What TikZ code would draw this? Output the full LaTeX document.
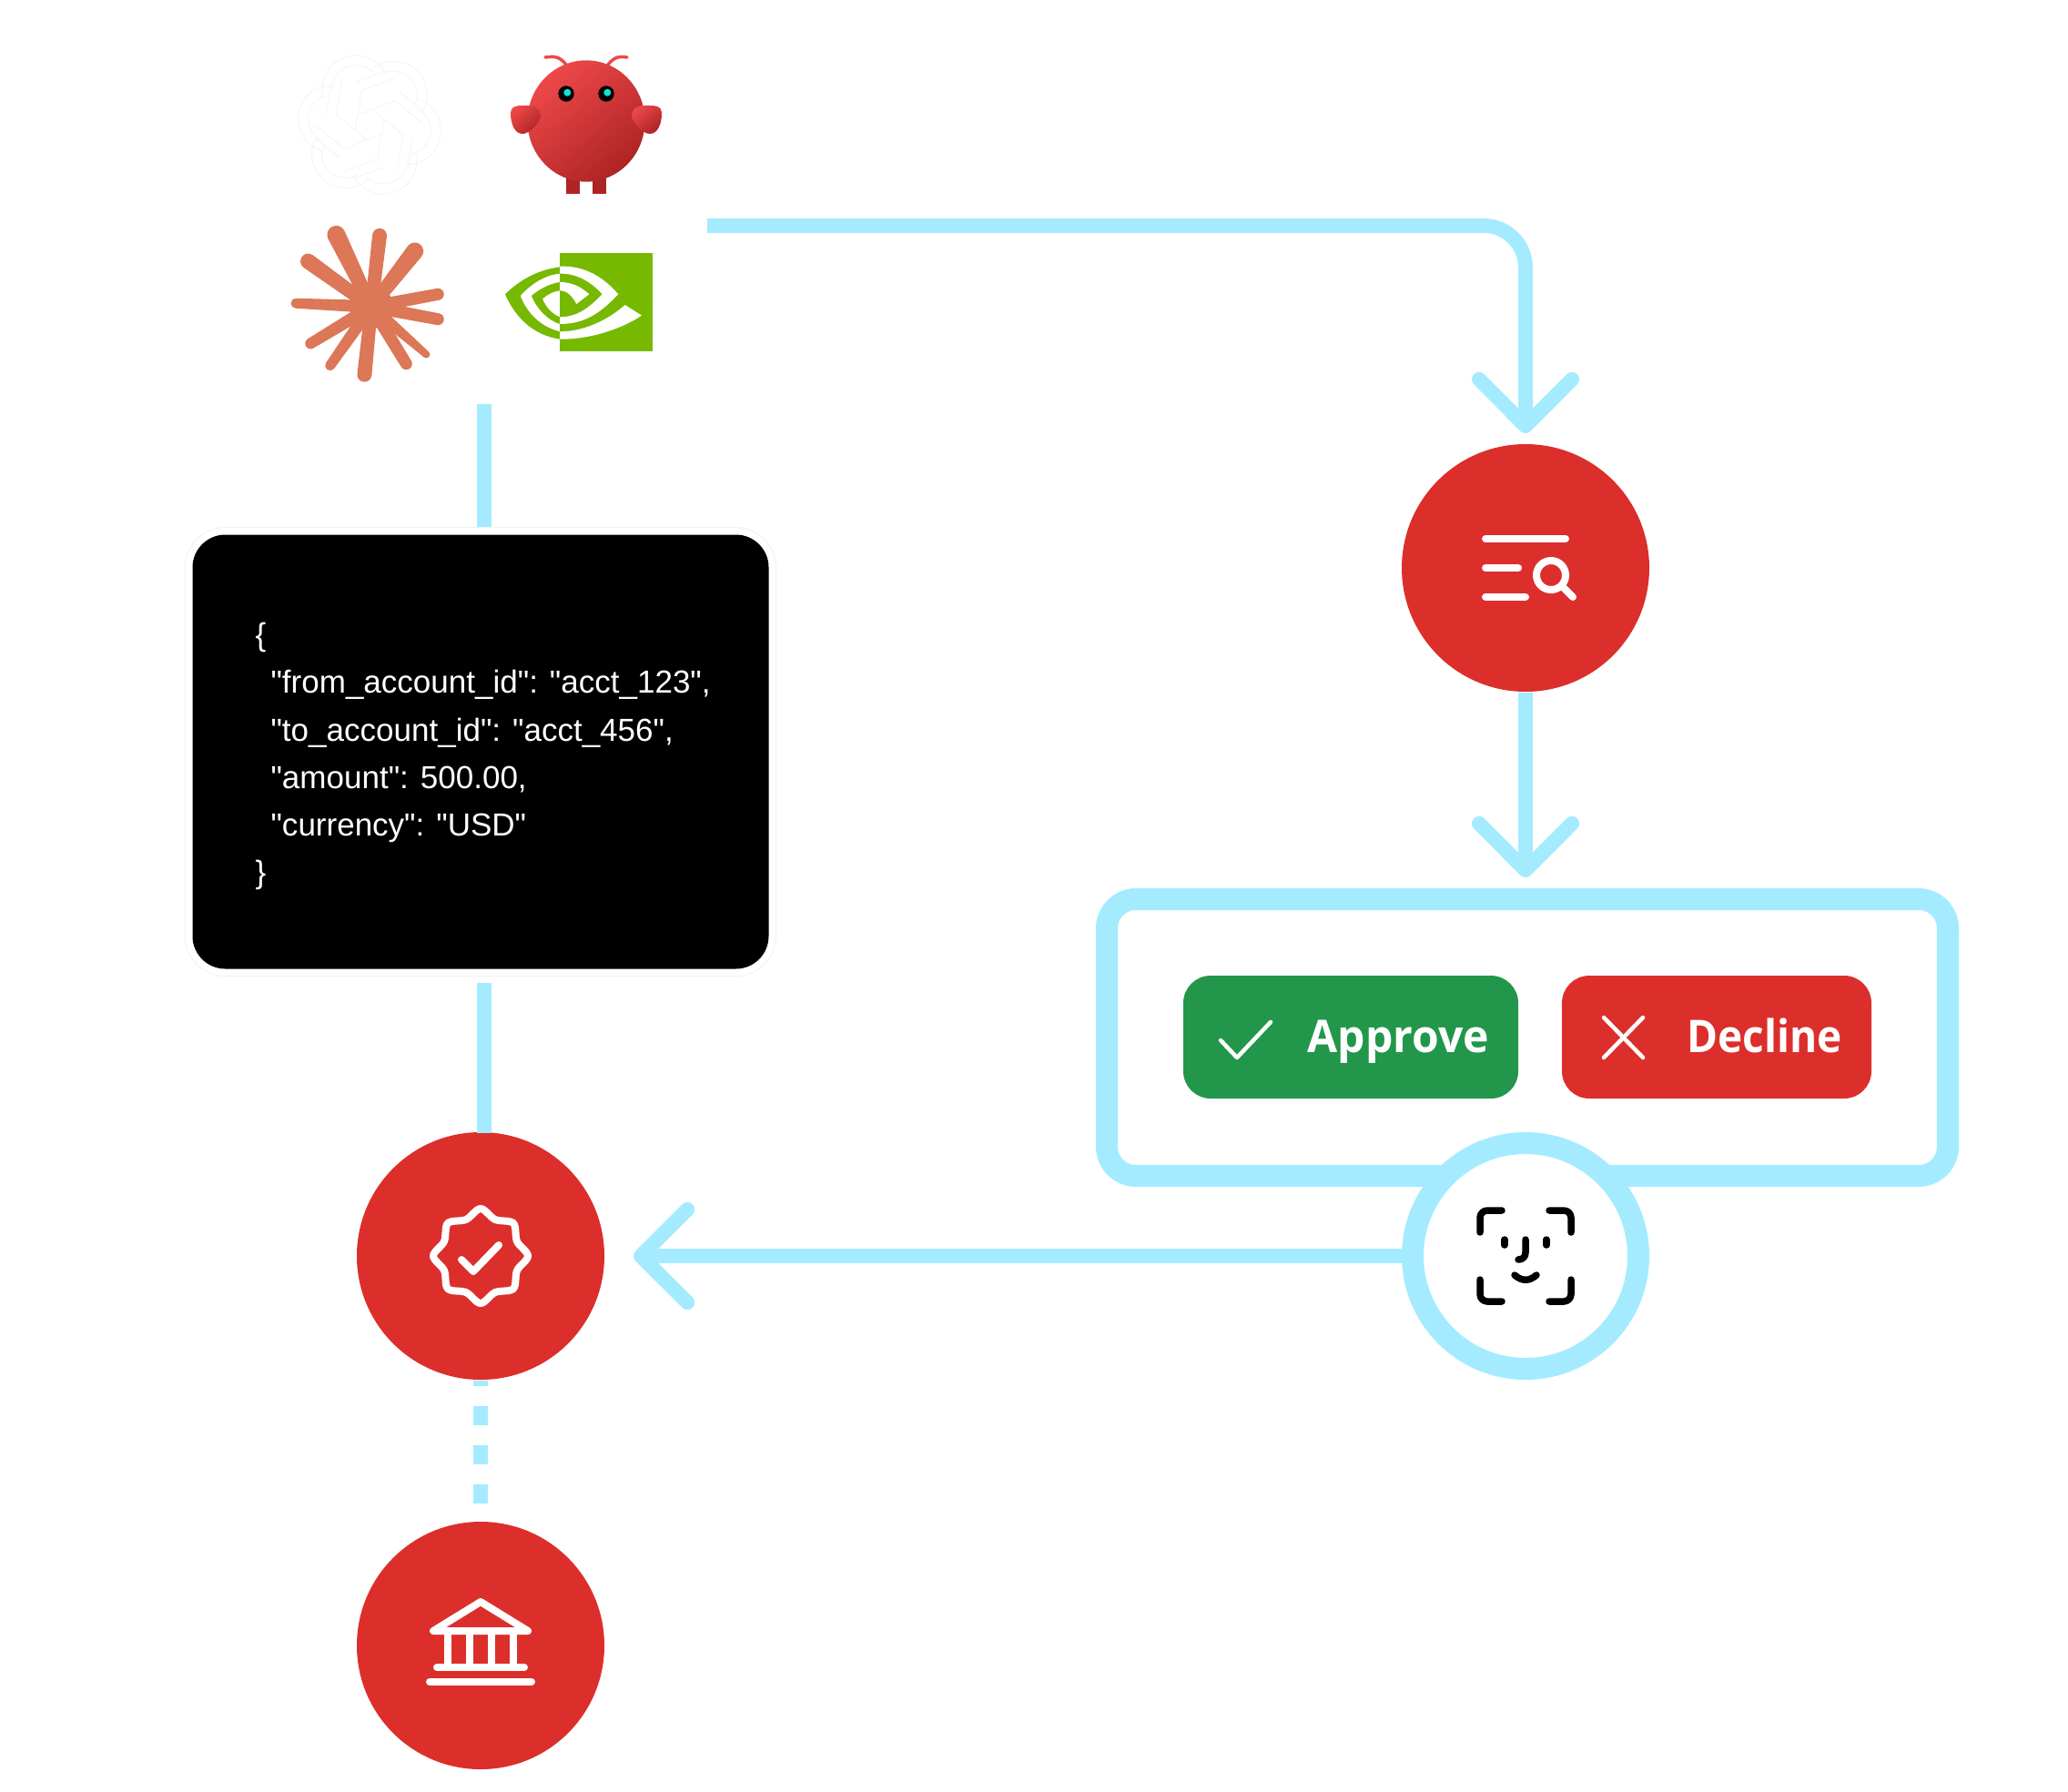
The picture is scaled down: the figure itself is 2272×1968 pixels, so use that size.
\documentclass[tikz,border=0pt]{standalone}
\usepackage{fontspec}
\setmainfont{Open Sans}
\newfontfamily\codefont{Liberation Sans}
\usetikzlibrary{arrows.meta}
\newlength\pxu
\setlength\pxu{0.0125cm}
\definecolor{flowblue}{HTML}{A5EBFF}
\definecolor{stepred}{HTML}{DC2F2B}
\definecolor{okgreen}{HTML}{22974B}
\definecolor{sunorange}{HTML}{DC7757}
\definecolor{nvgreen}{HTML}{76B900}
\definecolor{antlight}{HTML}{EE4849}
\definecolor{antdark}{HTML}{AE2424}
\definecolor{antiris}{HTML}{0FE5D0}
\definecolor{knotgrey}{HTML}{F3F6F6}
\tikzset{
    flowline/.style={draw=flowblue, line width=16\pxu},
    flowarrow/.style={flowline, -{Straight Barb[length=18.2pt, width=36.3pt, round]}},
    stepnode/.style={circle, fill=stepred, minimum size=272\pxu, inner sep=0pt},
    btnnode/.style={rounded corners=30\pxu, minimum height=135\pxu, inner sep=0pt},
    btnlabel/.style={text=white, anchor=base west, inner sep=0pt, font=\fontsize{17.6pt}{20pt}\selectfont\bfseries},
    iconline/.style={draw=white, line width=8\pxu, line cap=round, line join=round},
    btnline/.style={draw=white, line width=4.5\pxu, line cap=round, line join=round},
    faceline/.style={draw=black, line width=7.5\pxu, line cap=round, line join=round},
    knotline/.style={draw=knotgrey, line width=1\pxu},
    antshade/.style={left color=antlight, right color=antdark, shading angle=40},
}
\begin{document}
\begin{tikzpicture}[x=0.0125cm, y=-0.0125cm]
    \useasboundingbox (0,0) rectangle (2272,1968);

    % steps
    \node[stepnode] (search) at (1676,624) {};
    \node[stepnode] (verify) at (528,1380) {};
    \node[stepnode] (bank) at (528,1808) {};
    \node[draw=black!5, line width=1\pxu, fill=white, rounded corners=44\pxu, minimum width=649\pxu, minimum height=493\pxu, inner sep=0pt] (halo) at (528,826) {};
    \node[fill=black, rounded corners=36\pxu, minimum width=633\pxu, minimum height=477\pxu, inner sep=0pt] (payload) at (528,826) {};
    \node[text=white, anchor=north west, inner sep=0pt, align=left, font=\codefont\fontsize{12.45pt}{18.5pt}\selectfont] (payloadtext) at (280,684) {\{\\
        \hspace*{17\pxu}"from\_account\_id": "acct\_123",\\
        \hspace*{17\pxu}"to\_account\_id": "acct\_456",\\
        \hspace*{17\pxu}"amount": 500.00,\\
        \hspace*{17\pxu}"currency": "USD"\\
        \}};

    % frame with the two buttons
    \node[draw=flowblue, line width=24\pxu, rounded corners=32\pxu, minimum width=924\pxu, minimum height=304\pxu, inner sep=0pt] (frame) at (1678,1140) {};
    \node[fill=okgreen, btnnode, minimum width=368\pxu] (approve) at (1484,1139.5) {};
    \node[fill=stepred, btnnode, minimum width=340\pxu] (decline) at (1886,1139.5) {};
    \node[btnlabel] (approvelabel) at (1436,1156) {\scalebox{.97}[1]{Approve}};
    \node[btnlabel] (declinelabel) at (1853,1156) {\scalebox{.93}[1]{Decline}};
    \draw[btnline] (1341,1143) -- (1359,1162) -- (1396,1123);
    \draw[btnline] (1762,1118) -- (1805,1162);
    \draw[btnline] (1805,1118) -- (1762,1162);
    \node[circle, draw=flowblue, fill=white, line width=24\pxu, minimum size=248\pxu, inner sep=0pt] (face) at (1676,1380) {};

    % connectors
    \coordinate (agentsright) at (777,248);
    \coordinate (agentsdown) at (532,444);
    \coordinate (payloadout) at (532,1080);
    \coordinate (verifyinto) at (532,1245);
    \coordinate (searchin) at (1676,476);
    \coordinate (frameinto) at (1676,964);
    \coordinate (verifyin) at (696,1380);
    \draw[flowarrow, rounded corners=46\pxu] (agentsright) -| (searchin);
    \draw[flowarrow] (search.south) -- (frameinto);
    \draw[flowarrow] (face.west) -- (verifyin);
    \draw[flowline] (agentsdown) -- (agentsdown |- halo.north);
    \draw[flowline] (payloadout) -- (verifyinto);
    \draw[flowline, dash pattern=on 21.5\pxu off 21.5\pxu, dash phase=14.8\pxu] (verify.south) -- (bank.north);

    % search icon
    \begin{scope}[shift={(search.center)}]
        \draw[iconline] (-44,-32) -- (44,-32);
        \draw[iconline] (-44,0) -- (-8,0);
        \draw[iconline] (-44,32) -- (0,32);
        \draw[iconline] (28,8) circle (16);
        \draw[iconline] (41,21) -- (52,32);
    \end{scope}

    % badge icon
    \begin{scope}[shift={(verify.center)}]
        \draw[iconline] plot[smooth cycle, tension=0.55] coordinates {(0,-52) (16,-40) (36,-36) (40,-16) (52,0) (40,16) (36,36) (16,40) (0,52) (-16,40) (-36,36) (-40,16) (-52,0) (-40,-16) (-36,-36) (-16,-40)};
        \draw[iconline] (-21,4) -- (-8,17) -- (20,-12);
    \end{scope}

    % bank icon
    \begin{scope}[shift={(bank.center)}]
        \draw[iconline] (-52,-16) -- (0,-48) -- (52,-16) -- cycle;
        \foreach \colx in {-36,-12,12,36}
            \draw[iconline] (\colx,-16) -- (\colx,24);
        \draw[iconline] (-48,24) -- (48,24);
        \draw[iconline] (-56,40) -- (56,40);
    \end{scope}

    % face icon
    \begin{scope}[shift={(face.center)}]
        \draw[faceline, rounded corners=8\pxu] (-50,-26) -- (-50,-50) -- (-26,-50);
        \draw[faceline, rounded corners=8\pxu] (26,-50) -- (50,-50) -- (50,-26);
        \draw[faceline, rounded corners=8\pxu] (-50,26) -- (-50,50) -- (-26,50);
        \draw[faceline, rounded corners=8\pxu] (26,50) -- (50,50) -- (50,26);
        \draw[faceline] (-23,-18) -- (-23,-12);
        \draw[faceline] (23,-18) -- (23,-12);
        \draw[faceline] (0,-18) -- (0,-4) .. controls (0,1) and (-3,4) .. (-8,4);
        \draw[faceline] (-12,21) .. controls (-4,28) and (4,28) .. (12,21);
    \end{scope}

    % knot logo
    \begin{scope}[shift={(406,137)}]
        \foreach \turn in {-9,51,111,171,231,291} {
            \draw[knotline, rotate=\turn] (42,0) ++(-80:37) arc (-80:80:37);
            \draw[knotline, rotate=\turn] (42,0) ++(-70:26) arc (-70:70:26);
            \draw[knotline, rotate=\turn] (-49,-37) -- (-49,-3);
            \draw[knotline, rotate=\turn] (-38,-45) -- (-38,-5) -- (-15,8);
            \draw[knotline, rotate=\turn] (0,-17) -- (15,-8.5);
        }
    \end{scope}

    % mascot logo
    \begin{scope}
        \fill[antdark] (622,190) rectangle (637,213);
        \fill[antdark] (651,190) rectangle (666,213);
        \draw[antlight, line width=3.5\pxu, line cap=round] (622,71) .. controls (614,61) and (608,62) .. (599,63);
        \draw[antlight, line width=3.5\pxu, line cap=round] (668,71) .. controls (676,61) and (682,62) .. (689,63);
        \shade[antshade] (644,133) ellipse (64.5 and 66.7);
        \shade[antshade] (561,125) .. controls (561,115) and (570,116) .. (580,116) .. controls (590,116) and (595,122) .. (594,128) .. controls (592,136) and (582,147) .. (574,147) .. controls (565,147) and (561,135) .. (561,125) -- cycle;
        \shade[antshade] (727,125) .. controls (727,115) and (718,116) .. (708,116) .. controls (698,116) and (693,122) .. (694,128) .. controls (696,136) and (706,147) .. (714,147) .. controls (723,147) and (727,135) .. (727,125) -- cycle;
        \fill[black] (622,103) circle (8.7);
        \fill[black] (666,103) circle (8.7);
        \fill[antiris] (623.3,101.7) circle (4);
        \fill[antiris] (667.3,101.7) circle (4);
    \end{scope}

    % sun logo
    \begin{scope}[shift={(408,337)}]
        \fill[sunorange] (0,0) circle (24);
        \foreach \turn/\reach/\tipw in {116/98/20,83.4/86.6/16,52/87/19,10.6/81/13,-10.6/81/13,-41/84/8,-58.6/80/13,-95.8/83/16,-125/84.5/11,-148.8/84/12,177.4/88.5/11,144.3/94/17}
            \fill[sunorange, rotate=\turn] (0,-7) -- (\reach-\tipw/2,-\tipw/2) arc (-90:90:\tipw/2) -- (0,7) -- cycle;
    \end{scope}

    % eye logo
    \begin{scope}[shift={(290,30)}, x=0.0041667cm, y=-0.0041667cm]
        \fill[nvgreen] (975,745) rectangle (1280,1067);
        \fill[white] (975,788) .. controls (1060,785) and (1120,825) .. (1168,880) .. controls (1110,940) and (1060,978) .. (975,978) -- (975,955) .. controls (1040,955) and (1080,915) .. (1115,880) .. controls (1080,840) and (1030,810) .. (975,812) -- cycle;
        \fill[white] (975,840) .. controls (1015,840) and (1045,855) .. (1072,880) -- (1030,912) .. controls (1015,885) and (1000,868) .. (975,868) -- cycle;
        \fill[white] (975,1003) .. controls (1060,1003) and (1140,960) .. (1190,915) -- (1245,950) .. controls (1170,1000) and (1060,1030) .. (975,1028) -- cycle;
        \fill[nvgreen] (975,790) .. controls (900,800) and (840,835) .. (795,880) .. controls (830,960) and (890,1015) .. (975,1028) -- (975,1003) .. controls (920,990) and (870,950) .. (845,885) .. controls (880,845) and (930,815) .. (975,812) -- cycle;
        \fill[nvgreen] (975,840) .. controls (940,845) and (905,865) .. (882,885) .. controls (900,930) and (935,965) .. (975,978) -- (975,955) .. controls (950,945) and (930,925) .. (918,895) .. controls (935,880) and (955,870) .. (975,868) -- cycle;
    \end{scope}
\end{tikzpicture}
\end{document}
